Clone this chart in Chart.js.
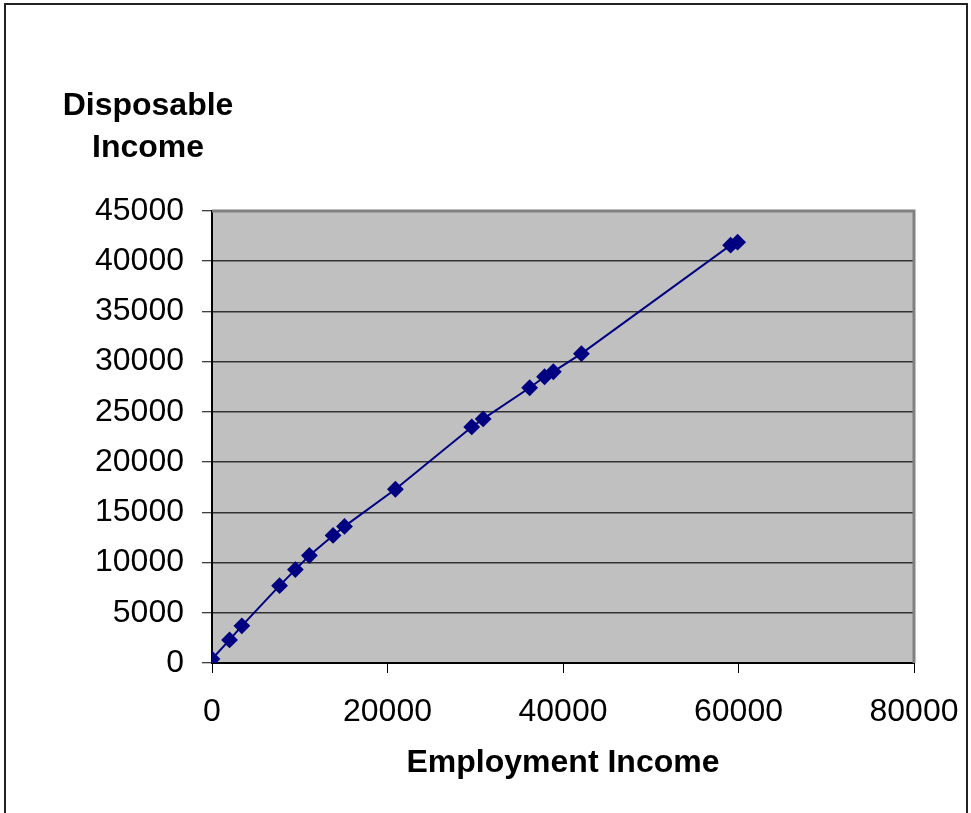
<!DOCTYPE html>
<html>
<head>
<meta charset="utf-8">
<script src="https://cdn.jsdelivr.net/npm/chart.js@4/dist/chart.umd.min.js"></script>
<style>
  html, body { margin: 0; padding: 0; background: #fff; overflow: hidden; }
  #wrap { width: 971px; height: 813px; }
</style>
</head>
<body>
<div id="wrap"><canvas id="chart1" width="971" height="813"></canvas></div>
<script>
// employment income (x) vs disposable income (y)
const employmentIncome = [0, 2000, 3400, 7700, 9500, 11100, 13800, 15100, 20900, 29600, 30900, 36200, 37900, 38900, 42100, 59100, 59900];
const disposableIncome = [400, 2300, 3700, 7700, 9300, 10700, 12700, 13600, 17300, 23500, 24300, 27400, 28500, 29000, 30800, 41600, 41900];
const yTitleLines = ['Disposable', 'Income'];
const xTitle = 'Employment Income';

const points = employmentIncome.map((x, i) => ({ x: x, y: disposableIncome[i] }));

const FONT = "'Liberation Sans', Arial, sans-serif";

const frame = {
    id: 'frame',
    beforeDraw(chart) {
        const { ctx, chartArea: a } = chart;
        ctx.save();
        // outer frame
        ctx.strokeStyle = '#222';
        ctx.lineWidth = 2;
        ctx.strokeRect(5, 4, 962, 900);
        // plot background
        ctx.fillStyle = '#c0c0c0';
        ctx.fillRect(a.left, a.top, a.right - a.left, a.bottom - a.top);
        ctx.restore();
    },
    beforeDatasetsDraw(chart) {
        const { ctx, chartArea: a } = chart;
        ctx.save();
        ctx.strokeStyle = '#808080';
        ctx.lineWidth = 3;
        ctx.beginPath();
        ctx.moveTo(a.left, a.top);
        ctx.lineTo(a.right, a.top);
        ctx.lineTo(a.right, a.bottom);
        ctx.stroke();
        // y title, horizontal at top left
        ctx.fillStyle = '#000';
        ctx.font = 'bold 32px ' + FONT;
        ctx.textAlign = 'center';
        ctx.textBaseline = 'alphabetic';
        ctx.fillText(yTitleLines[0], 148, 115);
        ctx.fillText(yTitleLines[1], 148, 157);
        ctx.restore();
    }
};

const plain = (v) => String(v);

const ctx1 = document.getElementById('chart1').getContext('2d');
const chart1 = new Chart(ctx1, {
    type: 'scatter',
    data: {
        datasets: [{
            data: points,
            showLine: true,
            borderColor: '#000080',
            borderWidth: 2,
            backgroundColor: '#000080',
            pointStyle: 'rectRot',
            pointRadius: 7,
            pointBorderWidth: 2,
            pointBorderColor: '#000080',
            tension: 0
        }]
    },
    options: {
        responsive: false,
        animation: false,
        devicePixelRatio: 1,
        layout: { padding: { top: 211, right: 57, left: 0, bottom: 0 } },
        plugins: {
            legend: { display: false },
            tooltip: { enabled: false }
        },
        scales: {
            x: {
                type: 'linear',
                min: 0,
                max: 80000,
                afterFit: (s) => { s.height = 150; s.paddingRight = 0; s.paddingLeft = 0; },
                ticks: {
                    stepSize: 20000,
                    color: '#000',
                    padding: 20,
                    callback: plain,
                    font: { family: FONT, size: 32 }
                },
                grid: {
                    drawOnChartArea: false,
                    drawTicks: true,
                    tickLength: 10,
                    tickColor: '#000',
                    tickWidth: 1
                },
                border: { color: '#000', width: 2 },
                title: {
                    display: true,
                    text: xTitle,
                    color: '#000',
                    padding: { top: 0, bottom: 31 },
                    font: { family: FONT, size: 32, weight: 'bold' }
                }
            },
            y: {
                type: 'linear',
                min: 0,
                max: 45000,
                afterFit: (s) => { s.width = 212; s.paddingTop = 0; s.paddingBottom = 0; },
                ticks: {
                    stepSize: 5000,
                    color: '#000',
                    padding: 18,
                    callback: plain,
                    font: { family: FONT, size: 32 }
                },
                grid: {
                    color: '#333',
                    lineWidth: 1.5,
                    tickLength: 10,
                    tickColor: '#000',
                    tickWidth: 1
                },
                border: { color: '#000', width: 2 }
            }
        }
    },
    plugins: [frame]
});
</script>
</body>
</html>
